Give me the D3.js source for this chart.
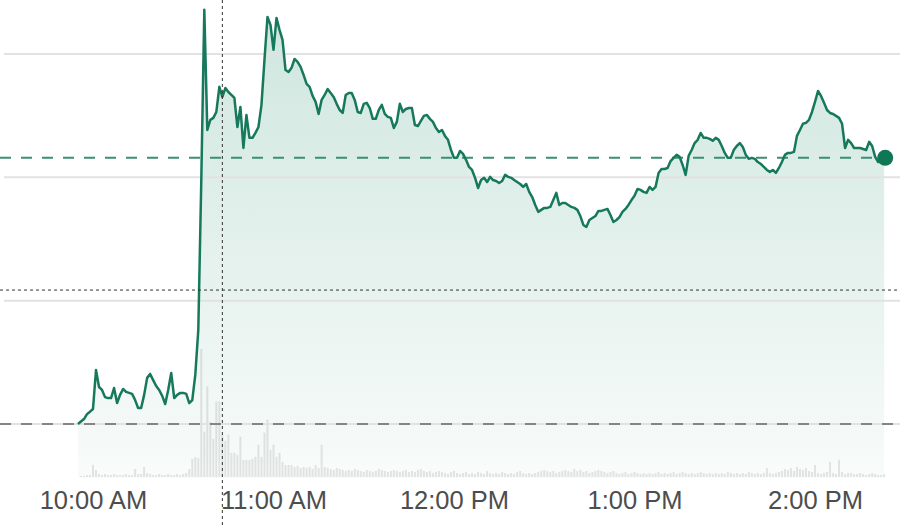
<!DOCTYPE html>
<html>
<head>
<meta charset="utf-8">
<script src="https://cdn.jsdelivr.net/npm/d3@7"></script>
<style>
  html, body { margin: 0; padding: 0; background: #ffffff; }
  svg { display: block; }
</style>
</head>
<body>
<svg id="chart" width="900" height="526"></svg>
<script>
// ---------- DATA ----------
// One price and one volume value per minute, starting at startTime
const startTime = "09:55";
const prices = [
  25.00, 25.10, 25.20, 25.40, 25.50,
  25.61, 27.19, 26.50, 26.38, 26.09, 26.05, 26.05, 26.46, 25.85, 26.18,
  26.42, 26.30, 26.26, 26.22, 25.97, 25.65, 25.65, 26.18, 26.87, 27.03,
  26.78, 26.54, 26.38, 26.14, 25.81, 26.38, 27.07, 26.05, 26.18, 26.26,
  26.26, 26.22, 25.85, 25.97, 26.99, 28.81, 34.89, 41.79, 36.92, 37.33,
  37.41, 37.65, 38.67, 38.26, 38.62, 38.46, 38.34, 38.22, 37.04, 37.85,
  36.19, 37.53, 36.60, 36.60, 36.80, 37.04, 37.94, 39.76, 41.50, 41.18,
  40.17, 41.46, 40.98, 40.57, 39.35, 39.27, 39.44, 39.80, 39.68, 39.48,
  39.15, 38.79, 38.67, 38.30, 38.06, 37.57, 38.14, 38.34, 38.58, 38.42,
  38.26, 37.98, 37.73, 37.61, 38.34, 38.42, 38.42, 38.14, 37.65, 37.61,
  37.98, 38.02, 37.81, 37.37, 37.37, 37.73, 37.94, 37.57, 37.45, 37.41,
  37.00, 37.25, 37.98, 37.65, 37.77, 37.81, 37.81, 37.12, 37.08, 37.29,
  37.49, 37.53, 37.37, 37.25, 37.00, 36.84, 36.92, 36.68, 36.52, 36.11,
  35.79, 35.79, 36.07, 35.95, 35.71, 35.42, 35.30, 34.98, 34.57, 34.89,
  34.98, 34.81, 35.02, 34.89, 34.85, 34.77, 34.85, 35.10, 35.02, 34.98,
  34.89, 34.81, 34.73, 34.61, 34.73, 34.41, 34.20, 33.88, 33.60, 33.68,
  33.76, 33.76, 33.80, 34.08, 34.37, 33.88, 33.96, 33.96, 33.88, 33.80,
  33.76, 33.68, 33.43, 33.07, 32.99, 33.27, 33.35, 33.43, 33.64, 33.64,
  33.68, 33.72, 33.47, 33.19, 33.27, 33.39, 33.60, 33.72, 33.88, 34.08,
  34.25, 34.53, 34.49, 34.41, 34.37, 34.61, 34.49, 34.61, 35.18, 35.34,
  35.34, 35.38, 35.66, 35.79, 35.91, 35.83, 35.50, 35.10, 35.87, 36.11,
  36.39, 36.52, 36.80, 36.60, 36.60, 36.56, 36.48, 36.60, 36.52, 36.27,
  35.99, 35.79, 35.79, 36.11, 36.27, 36.39, 36.23, 35.91, 35.75, 35.79,
  35.75, 35.62, 35.54, 35.42, 35.30, 35.22, 35.30, 35.18, 35.38, 35.62,
  35.91, 35.99, 35.99, 36.03, 36.68, 36.92, 37.17, 37.21, 37.33, 37.65,
  38.06, 38.50, 38.30, 38.02, 37.73, 37.61, 37.57, 37.49, 37.41, 37.17,
  36.19, 36.52, 36.39, 36.19, 36.19, 36.19, 36.15, 36.11, 36.44, 36.27,
  35.83, 35.62, 35.71, 35.79
];
const volumes = [
  0, 1, 1, 2, 2,
  12, 7, 3, 2, 3, 2, 2, 3, 2, 2,
  2, 3, 2, 2, 8, 3, 3, 10, 4, 3,
  2, 2, 3, 2, 2, 3, 2, 2, 3, 2,
  3, 4, 8, 18, 20, 19, 127, 45, 90, 55,
  38, 75, 75, 42, 36, 42, 24, 24, 22, 40,
  17, 17, 17, 18, 20, 32, 20, 44, 57, 27,
  32, 20, 24, 15, 12, 12, 12, 10, 11, 9,
  10, 9, 10, 8, 12, 9, 32, 10, 9, 8,
  7, 9, 8, 7, 6, 7, 6, 8, 7, 6,
  5, 7, 6, 5, 6, 8, 7, 6, 5, 6,
  7, 6, 5, 6, 7, 5, 6, 5, 7, 8,
  6, 5, 6, 4, 5, 6, 5, 4, 3, 5,
  6, 4, 3, 4, 5, 3, 4, 3, 5, 4,
  3, 6, 4, 3, 4, 3, 5, 4, 3, 4,
  3, 5, 6, 4, 3, 4, 3, 4, 5, 6,
  7, 6, 5, 6, 4, 5, 6, 7, 6, 5,
  8, 6, 7, 5, 6, 4, 5, 6, 7, 6,
  5, 4, 5, 6, 4, 3, 4, 5, 3, 4,
  5, 4, 3, 4, 3, 4, 3, 4, 5, 3,
  4, 3, 4, 5, 3, 4, 5, 4, 3, 4,
  3, 4, 5, 4, 3, 4, 3, 4, 3, 4,
  3, 5, 4, 3, 4, 3, 4, 3, 5, 4,
  3, 4, 3, 4, 9, 4, 3, 4, 5, 6,
  8, 7, 9, 6, 10, 8, 7, 9, 6, 5,
  12, 4, 3, 4, 5, 15, 4, 3, 17, 5,
  3, 4, 4, 3, 3, 4, 3, 2, 3, 4,
  3, 2, 2, 3
];
const tickLabels = ["10:00", "11:00", "12:00", "13:00", "14:00"];
const gridPrices = [25, 30, 35, 40];
const basePrice = 25.00;          // grey dashed reference
const crosshair = { time: "10:43", price: 30.43 };

// ---------- CHART ----------
const W = 900, H = 526;
const svg = d3.select("#chart");
const parse = d3.timeParse("%H:%M");
const t0 = parse(startTime);
const data = prices.map((p, i) => ({ t: d3.timeMinute.offset(t0, i), p: p, v: volumes[i] }));
const last = data[data.length - 1];

const x = d3.scaleTime().domain([parse("10:00"), parse("14:00")]).range([93, 815]);
const y = d3.scaleLinear().domain([25, 40]).range([424, 54]);
const areaBottom = 478;
const yv = d3.scaleLinear().domain([0, 130]).range([477, 346]);

const defs = svg.append("defs");
const grad = defs.append("linearGradient").attr("id", "fillGrad")
  .attr("gradientUnits", "userSpaceOnUse")
  .attr("x1", 0).attr("y1", 0).attr("x2", 0).attr("y2", areaBottom);
grad.append("stop").attr("offset", "0%").attr("stop-color", "#1f8a68").attr("stop-opacity", 0.22);
grad.append("stop").attr("offset", "100%").attr("stop-color", "#1f8a68").attr("stop-opacity", 0.03);

// volume bars
svg.append("g").selectAll("rect").data(data).join("rect")
  .attr("x", d => x(d.t) - 1)
  .attr("width", 2)
  .attr("y", d => yv(d.v))
  .attr("height", d => yv(0) - yv(d.v))
  .attr("fill", "#e6e6e6");

// area
svg.append("path").datum(data)
  .attr("fill", "url(#fillGrad)")
  .attr("d", d3.area().x(d => x(d.t)).y0(areaBottom).y1(d => y(d.p)));

// gridlines
svg.append("g").selectAll("line").data(gridPrices).join("line")
  .attr("x1", 4).attr("x2", W)
  .attr("y1", d => y(d)).attr("y2", d => y(d))
  .attr("stroke", "#e2e2e2").attr("stroke-width", 2);

// reference dashed lines
svg.append("line")
  .attr("x1", 0).attr("x2", W).attr("y1", y(basePrice)).attr("y2", y(basePrice))
  .attr("stroke", "#858585").attr("stroke-width", 2).attr("stroke-dasharray", "11,10");
svg.append("line")
  .attr("x1", 0).attr("x2", W).attr("y1", y(last.p)).attr("y2", y(last.p))
  .attr("stroke", "#3d8f72").attr("stroke-width", 2).attr("stroke-dasharray", "11,10");

// price line
svg.append("path").datum(data)
  .attr("fill", "none")
  .attr("stroke", "#17795c")
  .attr("stroke-width", 2.5)
  .attr("stroke-linejoin", "round")
  .attr("d", d3.line().x(d => x(d.t)).y(d => y(d.p)));

// crosshair
const cx = x(parse(crosshair.time)), cy = y(crosshair.price);
svg.append("line").attr("x1", cx).attr("x2", cx).attr("y1", 0).attr("y2", H)
  .attr("stroke", "#333").attr("stroke-width", 1).attr("stroke-dasharray", "3,3");
svg.append("line").attr("x1", 0).attr("x2", W).attr("y1", cy).attr("y2", cy)
  .attr("stroke", "#333").attr("stroke-width", 1).attr("stroke-dasharray", "3,3");

// end dot
svg.append("circle").attr("cx", x(last.t) + 1).attr("cy", y(last.p)).attr("r", 8)
  .attr("fill", "#0f7656");

// x axis
const axis = d3.axisBottom(x)
  .tickValues(tickLabels.map(parse))
  .tickFormat(d3.timeFormat("%-I:%M %p"))
  .tickSize(0).tickPadding(0);
const ax = svg.append("g").attr("transform", "translate(0,491)").call(axis);
ax.select(".domain").remove();
ax.selectAll("text")
  .attr("font-family", "'Liberation Sans', Arial, sans-serif")
  .attr("font-size", 25.5)
  .attr("fill", "#4d4d4d");
</script>
</body>
</html>
